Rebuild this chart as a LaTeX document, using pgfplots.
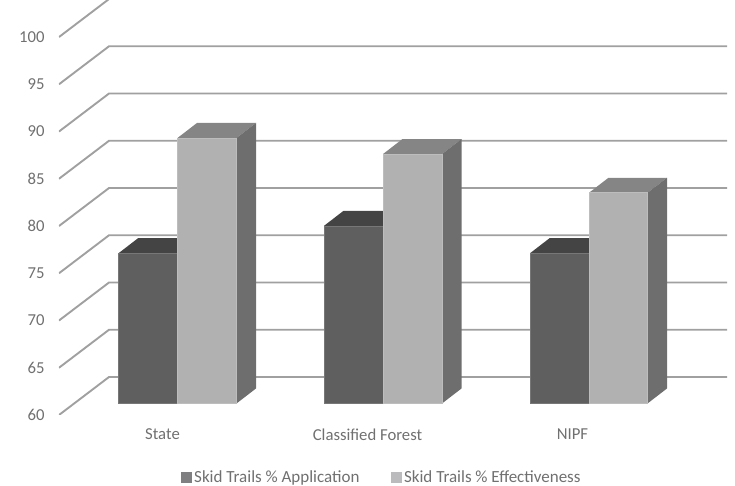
\documentclass[border=0pt]{standalone}
\usepackage{fontspec}
\setmainfont{Carlito}
\usepackage{pgfplots}
\pgfplotsset{compat=1.18}

\definecolor{gridc}{HTML}{A0A0A0}
\definecolor{labelc}{HTML}{707070}
\definecolor{darkfront}{HTML}{5F5F5F}
\definecolor{darktop}{HTML}{444444}
\definecolor{lightfront}{HTML}{B1B1B1}
\definecolor{lighttop}{HTML}{858585}
\definecolor{lightside}{HTML}{6E6E6E}
\definecolor{legdark}{HTML}{7F7F81}
\definecolor{leglight}{HTML}{BBBBBD}

% x0, x1, value, front colour, top colour, side colour
\newcommand\threedbar[6]{
  \pgfmathsetmacro\xa{#1+19.5}
  \pgfmathsetmacro\xb{#2+19.5}
  \pgfmathsetmacro\vb{#3+1.59}
  \addplot[forget plot, draw=none, fill=#5, yshift=11.5pt]
    coordinates {(#1,#3) (#2,#3) (\xb,\vb) (\xa,\vb)} -- cycle;
  \addplot[forget plot, draw=none, fill=#6, yshift=11.5pt]
    coordinates {(#2,60) (\xb,61.59) (\xb,\vb) (#2,#3)} -- cycle;
  \addplot[forget plot, draw=#4!85!white, line width=0.6pt, fill=#4, yshift=11.5pt]
    coordinates {(#1,60) (#2,60) (#2,#3) (#1,#3)} -- cycle;
}

\begin{document}
\begin{tikzpicture}
\useasboundingbox (-59pt,-71pt) rectangle (676pt,415pt);
\begin{axis}[
  scale only axis,
  width=668pt, height=415pt,
  xmin=59, xmax=727,
  ymin=60, ymax=103.92,
  axis line style={draw=none},
  tick style={draw=none},
  xtick={162.5,367.5,572.5},
  xticklabels={State,Classified Forest,NIPF},
  ytick={60,65,...,100},
  /pgf/number format/assume math mode=true,
  tick label style={font=\fontsize{16.7}{20}\selectfont, text=labelc},
  xticklabel style={yshift=-10.5pt},
  yticklabel style={xshift=-11pt},
  legend style={
    at={(axis cs:181,60)}, anchor=north west, yshift=-55.5pt,
    draw=none, fill=none, inner sep=0pt,
    font=\fontsize{17}{20}\selectfont, text=labelc,
    legend columns=2,
    /tikz/every even column/.style={column sep=29pt},
    nodes={inner xsep=2.5pt, inner ysep=0pt}
  },
  legend cell align=left,
  legend image code/.code={
    \fill[#1, draw=none] (0pt,-5.2pt) rectangle (10.5pt,5.2pt);
  }
]
% back wall and side wall lines
\addplot[forget plot, gridc, line width=1.9pt] coordinates {(59,60) (109,64.02) (727,64.02)};
\addplot[forget plot, gridc, line width=1.9pt] coordinates {(59,65) (109,69.02) (727,69.02)};
\addplot[forget plot, gridc, line width=1.9pt] coordinates {(59,70) (109,74.02) (727,74.02)};
\addplot[forget plot, gridc, line width=1.9pt] coordinates {(59,75) (109,79.02) (727,79.02)};
\addplot[forget plot, gridc, line width=1.9pt] coordinates {(59,80) (109,84.02) (727,84.02)};
\addplot[forget plot, gridc, line width=1.9pt] coordinates {(59,85) (109,89.02) (727,89.02)};
\addplot[forget plot, gridc, line width=1.9pt] coordinates {(59,90) (109,94.02) (727,94.02)};
\addplot[forget plot, gridc, line width=1.9pt] coordinates {(59,95) (109,99.02) (727,99.02)};
\addplot[forget plot, gridc, line width=1.9pt] coordinates {(59,100) (109,104.02) (727,104.02)};

\threedbar{118.5}{177.5}{75.9}{darkfront}{darktop}{darktop}
\threedbar{177.5}{236.5}{88.1}{lightfront}{lighttop}{lightside}
\threedbar{324}{383}{78.8}{darkfront}{darktop}{darktop}
\threedbar{383}{442}{86.4}{lightfront}{lighttop}{lightside}
\threedbar{530}{589}{75.9}{darkfront}{darktop}{darktop}
\threedbar{589}{647.5}{82.3}{lightfront}{lighttop}{lightside}

\addlegendimage{fill=legdark}
\addlegendentry{Skid Trails \% Application}
\addlegendimage{fill=leglight}
\addlegendentry{Skid Trails \% Effectiveness}
\end{axis}
\end{tikzpicture}
\end{document}
